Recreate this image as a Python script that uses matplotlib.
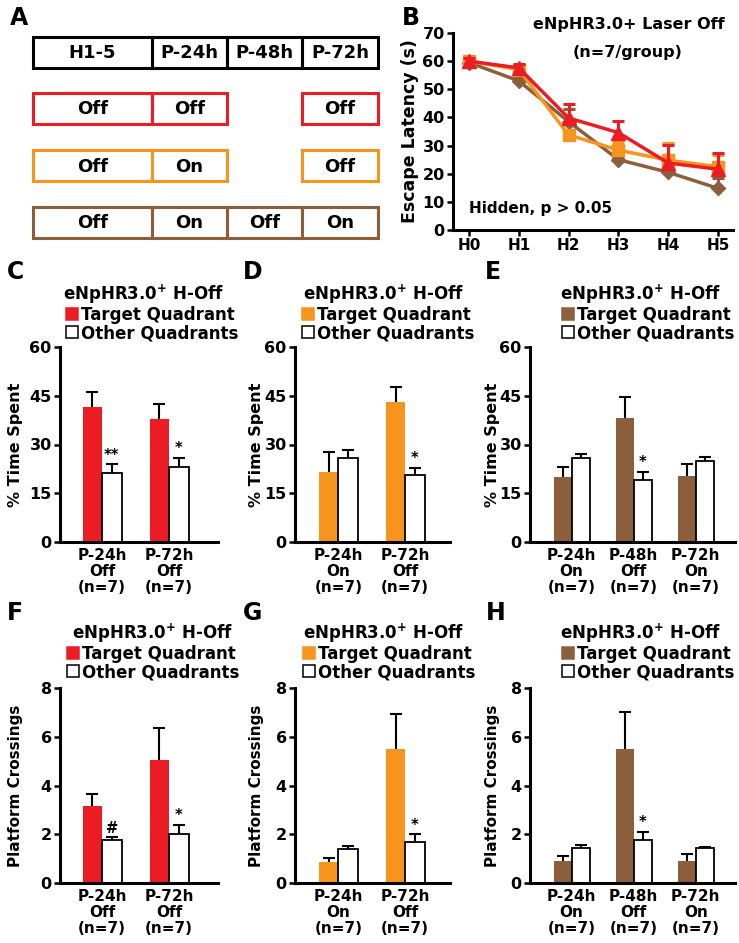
import matplotlib
matplotlib.use("Agg")
import matplotlib.pyplot as plt
from matplotlib.patches import Rectangle

plt.rcParams["font.family"] = ["DejaVu Sans"]
plt.rcParams["font.weight"] = "bold"
plt.rcParams["axes.labelweight"] = "bold"
plt.rcParams["mathtext.default"] = "bf"

W, H = 739, 943
RED = "#ec1c24"
ORANGE = "#f7941d"
BROWN = "#8b5e3c"

# ---- panel A: laser schedule
phases = ["H1-5", "P-24h", "P-48h", "P-72h"]
sched_red = ["Off", "Off", None, "Off"]
sched_orange = ["Off", "On", None, "Off"]
sched_brown = ["Off", "On", "Off", "On"]

# ---- panel B: escape latency
days = ["H0", "H1", "H2", "H3", "H4", "H5"]
lat_red = [60.0, 57.6, 39.8, 34.6, 23.8, 21.6]
lat_red_err = [1.0, 1.5, 5.0, 4.3, 6.3, 5.8]
lat_orange = [60.0, 57.0, 33.8, 28.4, 24.8, 22.5]
lat_orange_err = [1.0, 1.5, 1.5, 3.0, 6.0, 4.3]
lat_brown = [59.5, 53.0, 38.5, 25.0, 20.5, 14.8]
lat_brown_err = [0.8, 1.0, 4.5, 1.0, 1.0, 3.8]

# ---- panels C-E: % time spent
lab_c = ["P-24h\nOff\n(n=7)", "P-72h\nOff\n(n=7)"]
lab_d = ["P-24h\nOn\n(n=7)", "P-72h\nOff\n(n=7)"]
lab_e = ["P-24h\nOn\n(n=7)", "P-48h\nOff\n(n=7)", "P-72h\nOn\n(n=7)"]

time_c_target = [41.5, 37.7]
time_c_target_err = [4.8, 4.8]
time_c_other = [21.2, 23.1]
time_c_other_err = [2.7, 2.8]
time_c_marks = ["**", "*"]

time_d_target = [21.5, 43.1]
time_d_target_err = [6.1, 4.5]
time_d_other = [25.7, 20.7]
time_d_other_err = [2.5, 2.2]
time_d_marks = ["", "*"]

time_e_target = [20.1, 38.3, 20.3]
time_e_target_err = [2.9, 6.2, 3.7]
time_e_other = [25.9, 19.1, 25.0]
time_e_other_err = [1.2, 2.5, 1.3]
time_e_marks = ["", "*", ""]

# ---- panels F-H: platform crossings
cross_f_target = [3.16, 5.05]
cross_f_target_err = [0.5, 1.3]
cross_f_other = [1.75, 2.03]
cross_f_other_err = [0.14, 0.37]
cross_f_marks = ["#", "*"]

cross_g_target = [0.87, 5.5]
cross_g_target_err = [0.15, 1.45]
cross_g_other = [1.4, 1.68]
cross_g_other_err = [0.1, 0.32]
cross_g_marks = ["", "*"]

cross_h_target = [0.9, 5.5, 0.9]
cross_h_target_err = [0.22, 1.5, 0.28]
cross_h_other = [1.42, 1.78, 1.42]
cross_h_other_err = [0.12, 0.32, 0.06]
cross_h_marks = ["", "*", ""]

fig = plt.figure(figsize=(W / 100, H / 100), dpi=100)


def px_axes(l, t, r, b):
    return fig.add_axes([l / W, 1 - b / H, (r - l) / W, (b - t) / H])


def ftext(x, y, s, **kw):
    fig.text(x / W, 1 - y / H, s, **kw)


def up_errorbar(ax, x, y, err, color, lw=1.5, cap=4, z=3):
    _, caps, bars = ax.errorbar(x, y, yerr=[[0] * len(err), err], fmt="none",
                                ecolor=color, elinewidth=lw, capsize=cap,
                                capthick=lw, zorder=z)
    caps[0].set_visible(False)


def style_axes(ax):
    for s in ("top", "right"):
        ax.spines[s].set_visible(False)
    for s in ("left", "bottom"):
        ax.spines[s].set_linewidth(2.2)
    ax.tick_params(axis="y", length=4, width=1.8, pad=2, labelsize=11.5)


def place_ylabel(ax, box, x_center):
    l, t, r, b = box
    ax.yaxis.label.set_va("center")
    ax.yaxis.set_label_coords((x_center - l) / (r - l), 0.5)


# ---- panel A
axA = px_axes(33, 37, 378, 237)
axA.set_xlim(33, 378)
axA.set_ylim(237, 37)
axA.axis("off")
col_edges = [33, 152, 227, 302, 378]
rows = [(phases, "black"), (sched_red, RED), (sched_orange, ORANGE), (sched_brown, BROWN)]
row_top = [37, 93, 150, 207]
row_h = 31
for (cells, col), top in zip(rows, row_top):
    for i, txt in enumerate(cells):
        if txt is None:
            continue
        x0, x1 = col_edges[i], col_edges[i + 1]
        axA.add_patch(Rectangle((x0, top), x1 - x0, row_h, fill=False,
                                edgecolor=col, linewidth=2.2, clip_on=False))
        axA.text((x0 + x1) / 2, top + row_h / 2 + 1, txt, ha="center",
                 va="center", fontsize=13)

# ---- panel B
boxB = (453, 33, 733, 230)
axB = px_axes(*boxB)
xs = list(range(len(days)))
series = [(lat_brown, lat_brown_err, BROWN, "D", 7),
          (lat_orange, lat_orange_err, ORANGE, "s", 8),
          (lat_red, lat_red_err, RED, "^", 10)]
for z, (vals, errs, col, mk, ms) in enumerate(series):
    up_errorbar(axB, xs, vals, errs, col, lw=2.2, cap=4, z=2 + z)
    axB.plot(xs, vals, color=col, lw=2.5, marker=mk, markersize=ms, zorder=2 + z)
axB.set_xlim(-0.32, 5.3)
axB.set_ylim(0, 70)
axB.set_yticks(range(0, 71, 10))
axB.set_xticks(xs)
axB.set_xticklabels(days)
style_axes(axB)
axB.tick_params(axis="x", length=4, width=1.8, pad=2, labelsize=11)
axB.set_ylabel("Escape Latency (s)", fontsize=12.5)
place_ylabel(axB, boxB, 410)
ftext(629, 25, "eNpHR3.0+ Laser Off", ha="center", va="center", fontsize=11.5)
ftext(628, 53, "(n=7/group)", ha="center", va="center", fontsize=11.5)
ftext(469, 209, "Hidden, p > 0.05", ha="left", va="center", fontsize=11)


def bar_panel(box, labels, target, t_err, other, o_err, marks, color,
              ymax, yticks, ylabel, ylab_size, xlim, ylab_x, title_x, title_y, sq_x):
    ax = px_axes(*box)
    n = len(labels)
    w = 0.29
    xt = [i - w / 2 for i in range(n)]
    xo = [i + w / 2 for i in range(n)]
    ax.bar(xt, target, width=w, color=color, zorder=2)
    ax.bar(xo, other, width=w, color="white", edgecolor="black",
           linewidth=1.3, zorder=2)
    up_errorbar(ax, xt, target, t_err, "black")
    up_errorbar(ax, xo, other, o_err, "black")
    for x, v, e, m in zip(xo, other, o_err, marks):
        if m:
            ax.annotate(m, (x, v + e), xytext=(0, 1), textcoords="offset points",
                        ha="center", va="bottom", fontsize=10.5)
    ax.set_xlim(*xlim)
    ax.set_ylim(0, ymax)
    ax.set_yticks(yticks)
    ax.set_xticks(range(n))
    ax.set_xticklabels(labels, fontsize=11, linespacing=1.1)
    style_axes(ax)
    ax.tick_params(axis="x", length=0, pad=4)
    ax.set_ylabel(ylabel, fontsize=ylab_size)
    place_ylabel(ax, box, ylab_x)
    ftext(title_x, title_y, r"eNpHR3.0$^{+}$ H-Off", ha="center", va="center",
          fontsize=12)
    for k, (txt, fc) in enumerate([("Target Quadrant", color),
                                   ("Other Quadrants", "white")]):
        yc = title_y + 20 + 18 * k
        fig.add_artist(Rectangle((sq_x / W, 1 - (yc + 6) / H), 12 / W, 12 / H,
                                 transform=fig.transFigure, facecolor=fc,
                                 edgecolor="black" if fc == "white" else fc,
                                 linewidth=1.1))
        ftext(sq_x + 15, yc + 1, txt, ha="left", va="center", fontsize=12)
    return ax


bar_panel((60, 347, 218, 542), lab_c, time_c_target, time_c_target_err,
          time_c_other, time_c_other_err, time_c_marks, RED, 60,
          [0, 15, 30, 45, 60], "% Time Spent", 11.5, (-0.63, 1.73), 16, 144, 294, 66)
bar_panel((295, 347, 450, 542), lab_d, time_d_target, time_d_target_err,
          time_d_other, time_d_other_err, time_d_marks, ORANGE, 60,
          [0, 15, 30, 45, 60], "% Time Spent", 11.5, (-0.65, 1.67), 256, 384, 294, 302)
bar_panel((530, 347, 735, 542), lab_e, time_e_target, time_e_target_err,
          time_e_other, time_e_other_err, time_e_marks, BROWN, 60,
          [0, 15, 30, 45, 60], "% Time Spent", 11.5, (-0.67, 2.63), 492, 641, 294, 562)
bar_panel((60, 688, 218, 883), lab_c, cross_f_target, cross_f_target_err,
          cross_f_other, cross_f_other_err, cross_f_marks, RED, 8,
          [0, 2, 4, 6, 8], "Platform Crossings", 11, (-0.63, 1.73), 16, 153, 633, 67)
bar_panel((295, 688, 450, 883), lab_d, cross_g_target, cross_g_target_err,
          cross_g_other, cross_g_other_err, cross_g_marks, ORANGE, 8,
          [0, 2, 4, 6, 8], "Platform Crossings", 11, (-0.65, 1.67), 256, 384, 633, 303)
bar_panel((530, 688, 735, 883), lab_e, cross_h_target, cross_h_target_err,
          cross_h_other, cross_h_other_err, cross_h_marks, BROWN, 8,
          [0, 2, 4, 6, 8], "Platform Crossings", 11, (-0.67, 2.63), 492, 641, 633, 562)

# panel letters
for letter, x, y in [("A", 10, 18), ("B", 402, 18), ("C", 7, 272), ("D", 243, 272),
                     ("E", 485, 272), ("F", 7, 613), ("G", 243, 613), ("H", 486, 613)]:
    ftext(x, y, letter, ha="left", va="center", fontsize=17)

fig.savefig("out.png", dpi=100)
